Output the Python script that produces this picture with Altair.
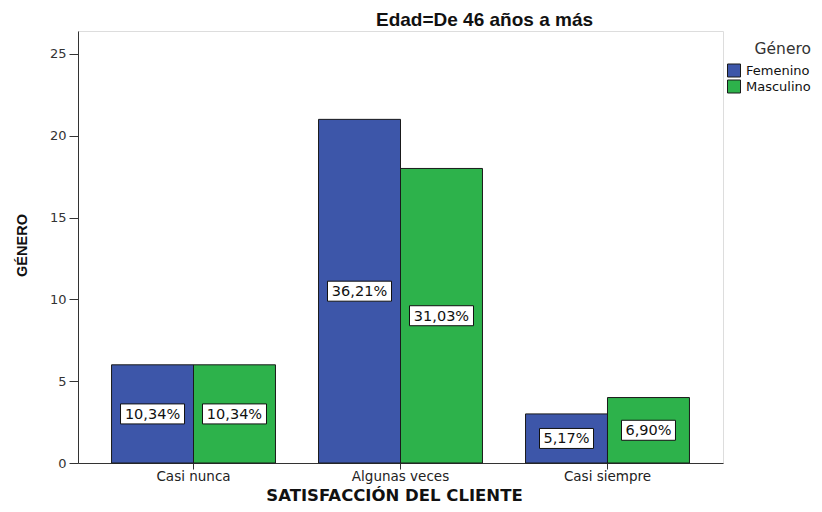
import altair as alt
import pandas as pd

categories = ["Casi nunca", "Algunas veces", "Casi siempre"]
generos = ["Femenino", "Masculino"]
femenino = [6, 21, 3]
masculino = [6, 18, 4]
fem_pct = ["10,34%", "36,21%", "5,17%"]
mas_pct = ["10,34%", "31,03%", "6,90%"]
y_ticks = [0, 5, 10, 15, 20, 25]

rows = []
for i, c in enumerate(categories):
    rows.append({"cat": c, "gen": "Femenino", "count": femenino[i], "label": fem_pct[i]})
    rows.append({"cat": c, "gen": "Masculino", "count": masculino[i], "label": mas_pct[i]})
df = pd.DataFrame(rows)

ARIAL = "Liberation Sans"
WIDE = "DejaVu Sans"

x_enc = alt.X(
    "cat:N",
    sort=categories,
    scale=alt.Scale(paddingInner=0.208, paddingOuter=0.162),
    axis=alt.Axis(
        title="SATISFACCIÓN DEL CLIENTE",
        labelAngle=0,
        labelFontSize=13.5,
        labelFont=WIDE,
        labelColor="#222222",
        labelPadding=0,
        tickSize=6,
        tickColor="#333333",
        domainColor="#333333",
        titleFont=WIDE,
        titleFontSize=16.5,
        titleFontWeight="bold",
        titleColor="#111111",
        titleX=316,
        titleY=37,
        titleAlign="center",
        titleBaseline="alphabetic",
    ),
)
xoff = alt.XOffset("gen:N", sort=generos, scale=alt.Scale(paddingInner=0, paddingOuter=0))

bars = alt.Chart(df).mark_bar(stroke="#1a1a1a", strokeWidth=1).encode(
    x=x_enc,
    xOffset=xoff,
    y=alt.Y(
        "count:Q",
        scale=alt.Scale(domain=[0, 26.4], nice=False, zero=True),
        axis=alt.Axis(
            title="GÉNERO",
            values=y_ticks,
            grid=False,
            labelFontSize=13,
            labelFont=WIDE,
            labelColor="#333333",
            labelPadding=3,
            tickSize=9,
            tickColor="#333333",
            domainColor="#333333",
            titleFont=ARIAL,
            titleFontSize=14.5,
            titleFontWeight="bold",
            titleColor="#111111",
            titleAngle=-90,
            titleX=-56,
            titleY=214,
            titleAlign="center",
            titleBaseline="middle",
        ),
    ),
    color=alt.Color(
        "gen:N",
        sort=generos,
        scale=alt.Scale(domain=generos, range=["#3D56A9", "#2DB24B"]),
        legend=alt.Legend(
            title="Género",
            orient="none",
            legendX=649,
            legendY=11,
            titleFont=WIDE,
            titleFontSize=15.5,
            titleFontWeight="normal",
            titleColor="#333333",
            titleAnchor="end",
            titlePadding=6,
            labelFont=WIDE,
            labelFontSize=13,
            labelColor="#111111",
            labelOffset=5,
            symbolType="square",
            symbolSize=169,
            symbolStrokeColor="#1a1a1a",
            symbolStrokeWidth=1,
            symbolOpacity=1,
            rowPadding=-10,
        ),
    ),
)

shape_expr = (
    "length(datum.label) > 5 ? 'M-1,-0.3125L1,-0.3125L1,0.3125L-1,0.3125Z' "
    ": 'M-0.84375,-0.3125L0.84375,-0.3125L0.84375,0.3125L-0.84375,0.3125Z'"
)

lab_base = alt.Chart(df).transform_calculate(mid="datum.count / 2", shp=shape_expr)

boxes = lab_base.mark_point(
    filled=True, fill="white", stroke="#111111", strokeWidth=1, opacity=1, size=4096
).encode(
    x=alt.X("cat:N", sort=categories),
    xOffset=alt.XOffset("gen:N", sort=generos),
    y=alt.Y("mid:Q"),
    shape=alt.Shape("shp:N", scale=None, legend=None),
)

texts = lab_base.mark_text(
    font=WIDE, fontSize=14.5, color="#111111", align="center", baseline="middle", dy=1
).encode(
    x=alt.X("cat:N", sort=categories),
    xOffset=alt.XOffset("gen:N", sort=generos),
    y=alt.Y("mid:Q"),
    text="label:N",
)

chart = (
    alt.layer(bars, boxes, texts)
    .properties(
        width=645,
        height=432,
        autosize=alt.AutoSizeParams(type="none"),
        padding={"left": 70, "top": 23, "right": 91, "bottom": 41},
        title=alt.TitleParams(
            "Edad=De 46 años a  más",
            font=ARIAL,
            fontSize=19,
            fontWeight="bold",
            color="#111111",
            anchor="middle",
            dx=84,
            offset=1,
        ),
    )
    .configure_view(fill="#F0F0F0", stroke="#555555", strokeWidth=1)
    .configure(background="white")
)

chart.save("out.html", embed_options={"renderer": "svg", "actions": False})
